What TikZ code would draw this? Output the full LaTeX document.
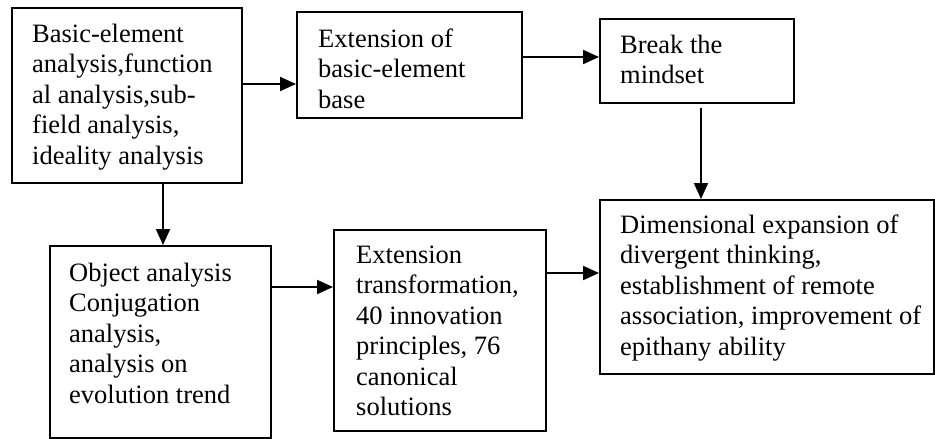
\documentclass[tikz,border=0pt]{standalone}
\usepackage{fontspec}
\setmainfont{Liberation Serif}
\usetikzlibrary{arrows.meta,calc}
\tikzset{
  box/.style={draw, line width=1.7pt, rectangle, inner sep=0pt, anchor=north west},
  txt/.style={anchor=base west, inner sep=0pt, font=\fontsize{26.5}{30.5}\selectfont},
  arr/.style={line width=2pt, -{Triangle[length=16pt,width=14pt]}}
}
\newcommand\boxtext[1]{\begin{tabular}[t]{@{}l@{}}#1\end{tabular}}
\begin{document}
\begin{tikzpicture}[x=1pt,y=-1pt]
\useasboundingbox (0,0) rectangle (935,439);
% boxes
\node[box, minimum width=230pt, minimum height=175pt] (A) at (11,7) {};
\node[box, minimum width=225pt, minimum height=106pt] (B) at (296,11) {};
\node[box, minimum width=194pt, minimum height=84pt] (C) at (599,18) {};
\node[box, minimum width=334pt, minimum height=174pt] (D) at (599,199) {};
\node[box, minimum width=221pt, minimum height=192pt] (E) at (49,245) {};
\node[box, minimum width=212pt, minimum height=201pt] (F) at (333,229) {};
% texts
\node[txt] (At) at ($(A.north west)+(21,35)$) {\boxtext{Basic-element\\analysis,function\\al analysis,sub-\\field analysis,\\ideality analysis}};
\node[txt] (Bt) at ($(B.north west)+(22,36)$) {\boxtext{Extension of\\basic-element\\base}};
\node[txt] (Ct) at ($(C.north west)+(21,35)$) {\boxtext{Break the\\mindset}};
\node[txt] (Dt) at ($(D.north west)+(21,34)$) {\boxtext{Dimensional expansion of\\divergent thinking,\\establishment of remote\\association, improvement of\\epithany ability}};
\node[txt] (Et) at ($(E.north west)+(20,36)$) {\boxtext{Object analysis\\Conjugation\\analysis,\\analysis on\\evolution trend}};
\node[txt] (Ft) at ($(F.north west)+(23,34)$) {\boxtext{Extension\\transformation,\\40 innovation\\principles, 76\\canonical\\solutions}};
% connector guides
\coordinate (yAB) at (0,84);
\coordinate (yBC) at (0,57);
\coordinate (xCD) at (701,0);
\coordinate (xAE) at (163,0);
\coordinate (yEF) at (0,287);
\coordinate (yFD) at (0,273);
% connectors
\draw[arr] (A.east |- yAB) -- (B.west |- yAB);
\draw[arr] (B.east |- yBC) -- (C.west |- yBC);
\draw[arr, shorten <=4pt] (C.south -| xCD) -- (D.north -| xCD);
\draw[arr] (A.south -| xAE) -- (E.north -| xAE);
\draw[arr] (E.east |- yEF) -- (F.west |- yEF);
\draw[arr] (F.east |- yFD) -- (D.west |- yFD);
\end{tikzpicture}
\end{document}
